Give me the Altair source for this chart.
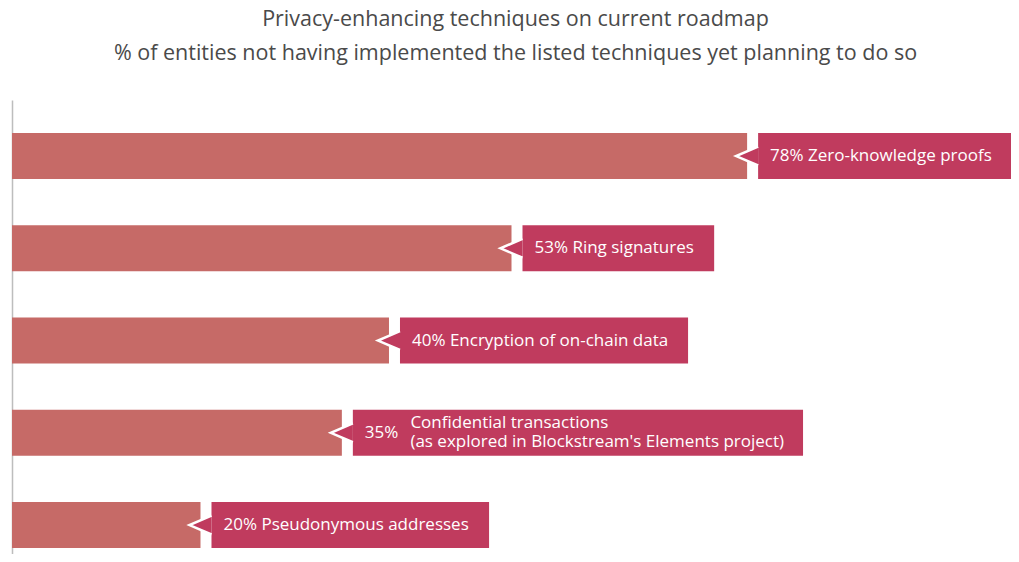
import altair as alt

# ---------------- data ----------------
TITLE_LINES = [
    "Privacy-enhancing techniques on current roadmap",
    "% of entities not having implemented the listed techniques yet planning to do so",
]
categories = [
    "Zero-knowledge proofs",
    "Ring signatures",
    "Encryption of on-chain data",
    "Confidential transactions",
    "Pseudonymous addresses",
]
values = [78, 53, 40, 35, 20]
label_lines = [
    ["Zero-knowledge proofs"],
    ["Ring signatures"],
    ["Encryption of on-chain data"],
    ["Confidential transactions", "(as explored in Blockstream's Elements project)"],
    ["Pseudonymous addresses"],
]

# ---------------- style ----------------
BAR_COLOR = "#C66A67"
BOX_COLOR = "#C03B5E"
TITLE_COLOR = "#4A4A4A"
AXIS_COLOR = "#BDBDBD"
FONT = "Open Sans"
LABEL_SIZE = 17
WIDTH, HEIGHT = 999, 454
XMAX = 106
PX_PER_UNIT = WIDTH / XMAX
GAP = 11        # gap between bar end and callout box
PAD_L = 12      # text inset in the box
PAD_R = 20
MULTI_GAP = 12  # gap between percentage and two-line text
LINE_H = 19

# approximate Open Sans advance widths (em) to size the callout boxes
_W = {' ': 0.26, '%': 0.828, '-': 0.322, '(': 0.297, ')': 0.297, "'": 0.177,
      'a': 0.556, 'b': 0.613, 'c': 0.476, 'd': 0.613, 'e': 0.561, 'f': 0.339,
      'g': 0.548, 'h': 0.614, 'i': 0.253, 'j': 0.253, 'k': 0.525, 'l': 0.253,
      'm': 0.93, 'n': 0.614, 'o': 0.604, 'p': 0.613, 'q': 0.613, 'r': 0.408,
      's': 0.477, 't': 0.353, 'u': 0.614, 'v': 0.501, 'w': 0.778, 'x': 0.524,
      'y': 0.502, 'z': 0.477, 'B': 0.635, 'C': 0.617, 'E': 0.541, 'P': 0.601,
      'R': 0.624, 'Z': 0.551}
for _d in "0123456789":
    _W[_d] = 0.572


def text_width(s, size=LABEL_SIZE):
    return sum(_W.get(ch, 0.58) for ch in s) * size


records = []
for cat, v, lines in zip(categories, values, label_lines):
    multi = len(lines) > 1
    lead = f"{v}%" if multi else f"{v}% {lines[0]}"
    lead_w = text_width(lead)
    extra_w = max(text_width(l) for l in lines) if multi else 0
    content_w = lead_w + (MULTI_GAP + extra_w if multi else 0)
    records.append({
        "category": cat,
        "value": v,
        "lead": lead,
        "extra": lines if multi else [""],
        "multi": multi,
        "box_end": v + (GAP + PAD_L + content_w + PAD_R) / PX_PER_UNIT,
        "extra_x": v + (GAP + PAD_L + lead_w + MULTI_GAP) / PX_PER_UNIT,
    })

data = alt.Data(values=records)

y_enc = alt.Y(
    "category:N",
    sort=categories,
    scale=alt.Scale(paddingInner=0.5, paddingOuter=0.2107, align=0.848),
    axis=alt.Axis(labels=False, ticks=False, title=None, grid=False,
                  domain=True, domainColor=AXIS_COLOR, domainWidth=1.5),
)
x_scale = alt.Scale(domain=[0, XMAX], nice=False, zero=True)

base = alt.Chart(data)

bars = base.mark_bar(color=BAR_COLOR).encode(
    x=alt.X("value:Q", scale=x_scale, axis=None),
    y=y_enc,
)

boxes = base.mark_bar(color=BOX_COLOR, xOffset=GAP).encode(
    x=alt.X("value:Q", scale=x_scale, axis=None),
    x2="box_end:Q",
    y=y_enc,
)

pointer = base.mark_point(
    shape="M 1 -0.86 L -1 0 L 1 0.86",
    filled=True, fill=BOX_COLOR, stroke="white", strokeWidth=2.5,
    size=484, opacity=1, strokeOpacity=1, fillOpacity=1,
).encode(
    x=alt.X("value:Q", scale=x_scale, axis=None),
    y=y_enc,
)

lead_text = base.mark_text(
    align="left", baseline="middle", color="white",
    font=FONT, fontSize=LABEL_SIZE, xOffset=GAP + PAD_L,
).encode(
    x=alt.X("value:Q", scale=x_scale, axis=None),
    y=y_enc,
    text="lead:N",
)

extra_text = base.transform_filter("datum.multi").mark_text(
    align="left", baseline="middle", color="white",
    font=FONT, fontSize=LABEL_SIZE, lineHeight=LINE_H, dy=-LINE_H / 2,
).encode(
    x=alt.X("extra_x:Q", scale=x_scale, axis=None),
    y=y_enc,
    text=alt.Text("extra:N"),
)

chart = alt.layer(bars, boxes, pointer, lead_text, extra_text).properties(
    width=WIDTH,
    height=HEIGHT,
    autosize=alt.AutoSizeParams(type="none"),
    padding={"left": 4, "top": 92, "right": 0, "bottom": 0},
    title=alt.TitleParams(
        text=TITLE_LINES, font=FONT, fontSize=21.5, fontWeight="normal",
        color=TITLE_COLOR, lineHeight=34, anchor="middle", offset=36, dx=4,
    ),
).configure_view(stroke=None)

chart.save("out.html", embed_options={"renderer": "svg", "actions": False})
